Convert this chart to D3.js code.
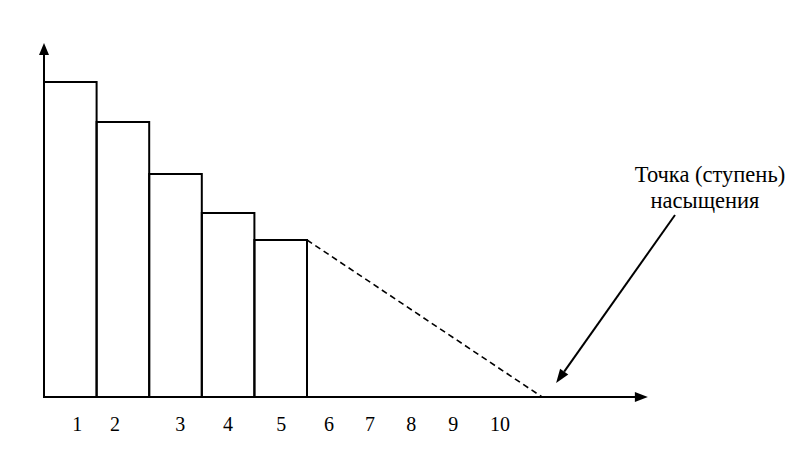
<!DOCTYPE html>
<html><head><meta charset="utf-8">
<script src="https://cdn.jsdelivr.net/npm/d3@7"></script>
<style>body{margin:0;background:#fff}</style>
</head><body>
<svg id="c" width="800" height="450"></svg>
<script>
// data (x in step units, y in value units)
const barValues = [315, 275, 223, 184, 157];
const tickLabels = ["1","2","3","4","5","6","7","8","9","10"];
const tickUnits = [0.63, 1.35, 2.59, 3.50, 4.51, 5.42, 6.20, 6.98, 7.78, 8.67];
const saturationUnit = 9.47;
const xAxisEnd = 11.48;
const yAxisTop = 354;
const annotation = ["Точка (ступень)", "насыщения"];

const svg = d3.select("#c");
const x = d3.scaleLinear().domain([0, 1]).range([44, 96.6]);
const y = d3.scaleLinear().domain([0, 354]).range([397, 43]);
const font = "Liberation Serif, DejaVu Serif, serif";

// bars
svg.selectAll("rect.bar").data(barValues).enter().append("rect")
  .attr("x", (d,i)=>x(i)).attr("y", d=>y(d))
  .attr("width", x(1)-x(0)).attr("height", d=>y(0)-y(d))
  .attr("fill","none").attr("stroke","#000").attr("stroke-width",2);

// dashed extrapolation
svg.append("line")
  .attr("x1", x(barValues.length)).attr("y1", y(barValues[barValues.length-1]))
  .attr("x2", x(saturationUnit)).attr("y2", y(0))
  .attr("stroke","#000").attr("stroke-width",1.6).attr("stroke-dasharray","6,4");

// axes
svg.append("line").attr("x1",x(0)).attr("y1",y(0)).attr("x2",x(0)).attr("y2",y(yAxisTop)+8)
  .attr("stroke","#000").attr("stroke-width",2);
svg.append("line").attr("x1",x(0)).attr("y1",y(0)).attr("x2",x(xAxisEnd)-8).attr("y2",y(0))
  .attr("stroke","#000").attr("stroke-width",2);
const yt = y(yAxisTop), xe = x(xAxisEnd);
svg.append("path").attr("d",`M${x(0)},${yt} L${x(0)-5},${yt+12} L${x(0)+5},${yt+12} Z`).attr("fill","#000");
svg.append("path").attr("d",`M${xe},${y(0)} L${xe-13},${y(0)-5} L${xe-13},${y(0)+5} Z`).attr("fill","#000");

// tick labels
svg.selectAll("text.tick").data(tickLabels).enter().append("text")
  .attr("x",(d,i)=>x(tickUnits[i])).attr("y",431)
  .style("text-anchor","middle").style("font-family",font).style("font-size","20px")
  .text(d=>d);

// annotation
svg.selectAll("text.ann").data(annotation).enter().append("text")
  .attr("x",(d,i)=>i===0?710:705).attr("y",(d,i)=>182+i*26)
  .style("text-anchor","middle").style("font-family",font).style("font-size","22.5px")
  .text(d=>d);

// annotation arrow
const ax1=675, ay1=215, ax2=x(saturationUnit)+14, ay2=y(0)-14;
const ang=Math.atan2(ay2-ay1, ax2-ax1);
const hl=14, hw=5;
const bx=ax2-hl*Math.cos(ang), by=ay2-hl*Math.sin(ang);
svg.append("line").attr("x1",ax1).attr("y1",ay1).attr("x2",bx).attr("y2",by)
  .attr("stroke","#000").attr("stroke-width",2);
svg.append("path").attr("d",`M${ax2},${ay2} L${bx+hw*Math.sin(ang)},${by-hw*Math.cos(ang)} L${bx-hw*Math.sin(ang)},${by+hw*Math.cos(ang)} Z`).attr("fill","#000");
</script>
</body></html>
